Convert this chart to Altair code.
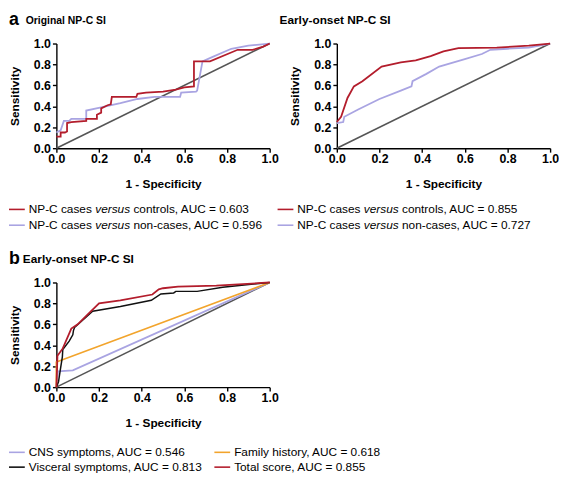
import altair as alt
import pandas as pd

FONT = "Liberation Sans"
RED = "#b31d2c"
LAV = "#a9a4e2"
GRAY = "#555555"
ORANGE = "#f2a42c"
BLACK = "#111111"

ticks = [0.0, 0.2, 0.4, 0.6, 0.8, 1.0]
diag_x = [0.0, 1.0]
diag_y = [0.0, 1.0]

# Panel a (left): Original NP-C SI
orig_ctrl_x = [0, 0.02, 0.02, 0.04, 0.05, 0.05, 0.07, 0.14, 0.14, 0.19, 0.19, 0.21, 0.21, 0.24, 0.255, 0.26,
               0.375, 0.38, 0.42, 0.5, 0.56, 0.6, 0.645, 0.645, 0.72, 0.85, 0.92, 0.97, 1.0]
orig_ctrl_y = [0.11, 0.11, 0.15, 0.15, 0.16, 0.24, 0.25, 0.26, 0.28, 0.28, 0.32, 0.34, 0.38, 0.41, 0.42, 0.49,
               0.49, 0.52, 0.53, 0.54, 0.56, 0.58, 0.59, 0.83, 0.83, 0.94, 0.94, 0.97, 1.0]
orig_non_x = [0, 0.02, 0.035, 0.06, 0.07, 0.14, 0.14, 0.21, 0.3, 0.38, 0.46, 0.58, 0.585, 0.655, 0.66, 0.685,
              0.73, 0.82, 0.9, 1.0]
orig_non_y = [0.15, 0.17, 0.26, 0.26, 0.28, 0.28, 0.36, 0.39, 0.43, 0.47, 0.49, 0.49, 0.53, 0.54, 0.55, 0.83,
              0.87, 0.95, 0.98, 1.0]

# Panel a (right): Early-onset NP-C SI
early_ctrl_x = [0, 0.02, 0.05, 0.08, 0.12, 0.21, 0.3, 0.37, 0.44, 0.5, 0.57, 0.75, 0.9, 1.0]
early_ctrl_y = [0.25, 0.30, 0.48, 0.59, 0.64, 0.78, 0.82, 0.84, 0.88, 0.925, 0.955, 0.96, 0.98, 1.0]
early_non_x = [0, 0.03, 0.035, 0.1, 0.2, 0.3, 0.35, 0.355, 0.42, 0.48, 0.6, 0.68, 0.72, 0.8, 0.9, 1.0]
early_non_y = [0.24, 0.25, 0.30, 0.37, 0.47, 0.55, 0.59, 0.64, 0.71, 0.78, 0.85, 0.90, 0.94, 0.95, 0.96, 1.0]

# Panel b: Early-onset NP-C SI components
tot_x = [0, 0.005, 0.03, 0.07, 0.1, 0.14, 0.2, 0.3, 0.45, 0.48, 0.5, 0.57, 0.75, 1.0]
tot_y = [0, 0.30, 0.37, 0.56, 0.60, 0.68, 0.80, 0.83, 0.885, 0.935, 0.945, 0.96, 0.97, 1.0]
visc_x = [0, 0.01, 0.018, 0.028, 0.03, 0.06, 0.077, 0.08, 0.085, 0.17, 0.3, 0.445, 0.49, 0.55, 0.56, 0.66, 0.78, 1.0]
visc_y = [0, 0.05, 0.16, 0.29, 0.36, 0.44, 0.50, 0.54, 0.57, 0.725, 0.77, 0.83, 0.89, 0.90, 0.915, 0.915, 0.955, 1.0]
fam_x = [0, 0, 1.0]
fam_y = [0, 0.24, 1.0]
cns_x = [0, 0.008, 0.077, 1.0]
cns_y = [0, 0.15, 0.16, 1.0]

a_groups = ["controls", "non-cases"]
orig_auc = ["0.603", "0.596"]
early_auc = ["0.855", "0.727"]
b_labels = ["CNS symptoms", "Visceral symptoms", "Family history", "Total score"]
b_auc = ["0.546", "0.813", "0.618", "0.855"]

W, H = 216, 106
LEG = 12

# Helvetica/Arial advance widths (per 1000 em) for text placement
CW = {" ": 278, "N": 722, "P": 667, "-": 333, "C": 722, "c": 500, "a": 556, "s": 500, "e": 556,
      "v": 500, "r": 333, "u": 556}


def tw(s, size):
    return sum(CW.get(ch, 556) for ch in s) * size / 1000.0


xscale = alt.Scale(domain=[0, 1], nice=False)
yscale = alt.Scale(domain=[0, 1], nice=False)
xaxis = alt.Axis(title="1 - Specificity", values=ticks, format=".1f")
yaxis = alt.Axis(title="Sensitivity", values=ticks, format=".1f")


def curve(xs, ys, color, width=1.8):
    df = pd.DataFrame({"x": xs, "y": ys, "i": list(range(len(xs)))})
    return alt.Chart(df).mark_line(color=color, strokeWidth=width).encode(
        x=alt.X("x:Q", scale=xscale, axis=xaxis),
        y=alt.Y("y:Q", scale=yscale, axis=yaxis),
        order=alt.Order("i:Q"),
    )


def txt(s, x, y, size=LEG, weight="normal", style="normal", baseline="middle"):
    return alt.Chart(alt.Data(values=[{}])).mark_text(
        text=s, align="left", baseline=baseline, font=FONT, fontSize=size,
        fontWeight=weight, fontStyle=style, color="black"
    ).encode(x=alt.value(x), y=alt.value(y))


def seg(x1, x2, y, color):
    return alt.Chart(alt.Data(values=[{}])).mark_rule(color=color, strokeWidth=1.6).encode(
        x=alt.value(x1), x2=alt.value(x2), y=alt.value(y))


def versus_row(x0, y, group, auc, color):
    pre = "NP-C cases "
    x1 = x0 + tw(pre, LEG)
    x2 = x1 + tw("versus ", LEG)
    return [seg(x0 - 20, x0 - 4, y, color),
            txt("NP-C cases", x0, y),
            txt("versus", x1, y, style="italic"),
            txt(f"{group}, AUC = {auc}", x2, y)]


# Panel a-left
a1_layers = [curve(diag_x, diag_y, GRAY, 1.6),
             curve(orig_non_x, orig_non_y, LAV),
             curve(orig_ctrl_x, orig_ctrl_y, RED),
             txt("a", -48, -19, size=18, weight="bold", baseline="alphabetic"),
             txt("Original NP-C SI", -31, -20, size=10.5, weight="bold", baseline="alphabetic")]
a1_layers += versus_row(-28, H + 62, a_groups[0], orig_auc[0], RED)
a1_layers += versus_row(-28, H + 78, a_groups[1], orig_auc[1], LAV)
A1 = alt.layer(*a1_layers).properties(width=W, height=H)

# Panel a-right
a2_layers = [curve(diag_x, diag_y, GRAY, 1.6),
             curve(early_non_x, early_non_y, LAV),
             curve(early_ctrl_x, early_ctrl_y, RED),
             txt("Early-onset NP-C SI", -58, -20, size=12, weight="bold", baseline="alphabetic")]
a2_layers += versus_row(-40, H + 62, a_groups[0], early_auc[0], RED)
a2_layers += versus_row(-40, H + 78, a_groups[1], early_auc[1], LAV)
A2 = alt.layer(*a2_layers).properties(width=W, height=H)

# Panel b
b_colors = [LAV, BLACK, ORANGE, RED]
b_pos = [(-28, H + 66), (-28, H + 81), (180, H + 66), (180, H + 81)]
b_layers = [curve(diag_x, diag_y, GRAY, 1.6),
            curve(cns_x, cns_y, LAV),
            curve(fam_x, fam_y, ORANGE),
            curve(visc_x, visc_y, BLACK, 1.5),
            curve(tot_x, tot_y, RED),
            txt("b", -48, -19, size=18, weight="bold", baseline="alphabetic"),
            txt("Early-onset NP-C SI", -34, -20, size=12, weight="bold", baseline="alphabetic")]
for lab, auc, col, (lx, ly) in zip(b_labels, b_auc, b_colors, b_pos):
    b_layers += [seg(lx - 20, lx - 4, ly, col), txt(f"{lab}, AUC = {auc}", lx, ly)]
B = alt.layer(*b_layers).properties(width=W, height=H)

chart = alt.concat(A1, A2, B, columns=2, spacing={"row": 136, "column": 68}, bounds="flush").properties(
    padding=0
).configure_view(strokeWidth=0).configure_axis(
    domainColor="black", domainWidth=1.4, tickColor="black", tickWidth=1.4, tickSize=4,
    labelFont=FONT, labelFontSize=12.5, labelFontWeight="bold", labelColor="black",
    titleFont=FONT, titleFontSize=12, titleFontWeight="bold", titleColor="black",
    grid=False, labelFlush=False
).configure_axisX(labelPadding=1, titlePadding=13).configure_axisY(labelPadding=2, titlePadding=12)

chart.save("out.html", embed_options={"renderer": "svg", "actions": False})
